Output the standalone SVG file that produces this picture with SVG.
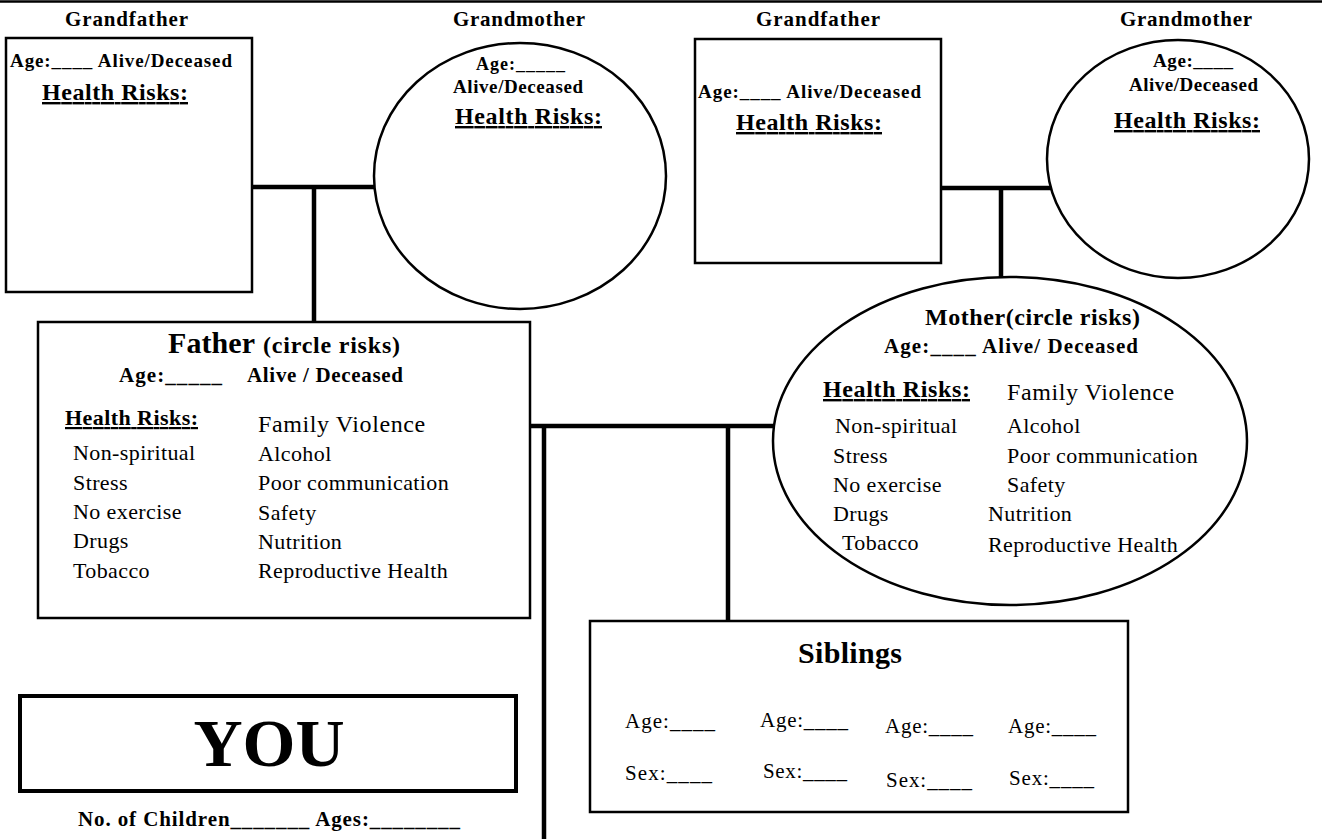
<svg xmlns="http://www.w3.org/2000/svg" width="1322" height="839" viewBox="0 0 1322 839">
  <style>
    .b{font-family:"Liberation Serif","Times New Roman",serif;font-weight:bold;fill:#000}
    .r{font-family:"Liberation Serif","Times New Roman",serif;font-weight:normal;fill:#000}
    .u{text-decoration:underline}
    .lbl{font-size:21px}
    .info{font-size:19px}
    .hr{font-size:24px}
    .item{font-size:22px;letter-spacing:0.4px}
    .fv{font-size:24px;letter-spacing:0.6px}
    .sib{font-size:21px}
    .shape{fill:#fff;stroke:#000;stroke-width:2.5}
    .conn{stroke:#000;stroke-width:4.5;fill:none}
  </style>

  <!-- page rule along the top -->
  <line x1="0" y1="1.5" x2="1322" y2="1.5" stroke="#000" stroke-width="2.5"/>

  <!-- family lines -->
  <g id="connectors" class="conn">
    <path d="M252 187 H380 M314 187 V322"/>
    <path d="M941 188 H1052 M1001 188 V278"/>
    <path d="M530 426 H776 M544 426 V839 M728 426 V621"/>
  </g>

  <!-- paternal grandfather -->
  <g id="grandfather-paternal">
    <text class="b lbl" x="65" y="26" textLength="123" lengthAdjust="spacing">Grandfather</text>
    <rect class="shape" x="6" y="38" width="246" height="254"/>
    <text class="b info" x="10" y="67" textLength="222" lengthAdjust="spacing">Age:____  Alive/Deceased</text>
    <text class="b hr u" x="42" y="100" textLength="146" lengthAdjust="spacing">Health Risks:</text>
  </g>

  <!-- paternal grandmother -->
  <g id="grandmother-paternal">
    <text class="b lbl" x="453" y="26" textLength="132" lengthAdjust="spacing">Grandmother</text>
    <ellipse class="shape" cx="520" cy="176" rx="146" ry="133" stroke-width="2"/>
    <text class="b" font-size="18" x="476" y="70" textLength="89" lengthAdjust="spacing">Age:_____</text>
    <text class="b info" x="453" y="93" textLength="130" lengthAdjust="spacing">Alive/Deceased</text>
    <text class="b hr u" x="455" y="124" textLength="147" lengthAdjust="spacing">Health Risks:</text>
  </g>

  <!-- maternal grandfather -->
  <g id="grandfather-maternal">
    <text class="b lbl" x="756" y="26" textLength="124" lengthAdjust="spacing">Grandfather</text>
    <rect class="shape" x="695" y="39" width="246" height="224"/>
    <text class="b info" x="698" y="98" textLength="223" lengthAdjust="spacing">Age:____  Alive/Deceased</text>
    <text class="b hr u" x="736" y="130" textLength="146" lengthAdjust="spacing">Health Risks:</text>
  </g>

  <!-- maternal grandmother -->
  <g id="grandmother-maternal">
    <text class="b lbl" x="1120" y="26" textLength="132" lengthAdjust="spacing">Grandmother</text>
    <ellipse class="shape" cx="1178" cy="159" rx="131" ry="119" stroke-width="2"/>
    <text class="b info" x="1153" y="67" textLength="80" lengthAdjust="spacing">Age:____</text>
    <text class="b info" x="1129" y="91" textLength="129" lengthAdjust="spacing">Alive/Deceased</text>
    <text class="b hr u" x="1114" y="128" textLength="146" lengthAdjust="spacing">Health Risks:</text>
  </g>

  <!-- father -->
  <g id="father">
    <rect class="shape" x="38" y="322" width="492" height="296"/>
    <text class="b" font-size="30" x="168" y="353" textLength="87" lengthAdjust="spacing">Father</text>
    <text class="b" font-size="24" x="263" y="353" textLength="137" lengthAdjust="spacing">(circle risks)</text>
    <text class="b" font-size="21" x="119" y="382" textLength="103" lengthAdjust="spacing">Age:_____</text>
    <text class="b" font-size="21" x="247" y="382" textLength="156" lengthAdjust="spacing">Alive / Deceased</text>
    <text class="b u" font-size="22" x="65" y="425" textLength="133" lengthAdjust="spacing">Health Risks:</text>
    <text class="r fv" x="258" y="432">Family Violence</text>
    <text class="r item" x="73" y="460">Non-spiritual</text>
    <text class="r item" x="73" y="490">Stress</text>
    <text class="r item" x="73" y="519">No exercise</text>
    <text class="r item" x="73" y="548">Drugs</text>
    <text class="r item" x="73" y="578">Tobacco</text>
    <text class="r item" x="258" y="461">Alcohol</text>
    <text class="r item" x="258" y="490">Poor communication</text>
    <text class="r item" x="258" y="520">Safety</text>
    <text class="r item" x="258" y="549">Nutrition</text>
    <text class="r item" x="258" y="578">Reproductive Health</text>
  </g>

  <!-- mother -->
  <g id="mother">
    <ellipse class="shape" cx="1010" cy="441" rx="237" ry="164" stroke-width="2"/>
    <text class="b" font-size="24" x="925" y="325" textLength="215" lengthAdjust="spacing">Mother(circle risks)</text>
    <text class="b" font-size="21" x="884" y="353" textLength="254" lengthAdjust="spacing">Age:____  Alive/ Deceased</text>
    <text class="b u" font-size="24" x="823" y="397" textLength="147" lengthAdjust="spacing">Health Risks:</text>
    <text class="r fv" x="1007" y="400">Family Violence</text>
    <text class="r item" x="835" y="433">Non-spiritual</text>
    <text class="r item" x="833" y="463">Stress</text>
    <text class="r item" x="833" y="492">No exercise</text>
    <text class="r item" x="833" y="521">Drugs</text>
    <text class="r item" x="842" y="550">Tobacco</text>
    <text class="r item" x="1007" y="433">Alcohol</text>
    <text class="r item" x="1007" y="463">Poor communication</text>
    <text class="r item" x="1007" y="492">Safety</text>
    <text class="r item" x="988" y="521">Nutrition</text>
    <text class="r item" x="988" y="552">Reproductive Health</text>
  </g>

  <!-- siblings -->
  <g id="siblings">
    <rect class="shape" x="590" y="621" width="538" height="191"/>
    <text class="b" font-size="30" x="798" y="663" textLength="104" lengthAdjust="spacing">Siblings</text>
    <text class="r sib" x="625" y="728" textLength="90" lengthAdjust="spacing">Age:____</text>
    <text class="r sib" x="760" y="727" textLength="88" lengthAdjust="spacing">Age:____</text>
    <text class="r sib" x="885" y="733" textLength="88" lengthAdjust="spacing">Age:____</text>
    <text class="r sib" x="1008" y="733" textLength="88" lengthAdjust="spacing">Age:____</text>
    <text class="r sib" x="625" y="780" textLength="87" lengthAdjust="spacing">Sex:____</text>
    <text class="r sib" x="763" y="778" textLength="84" lengthAdjust="spacing">Sex:____</text>
    <text class="r sib" x="886" y="787" textLength="86" lengthAdjust="spacing">Sex:____</text>
    <text class="r sib" x="1009" y="785" textLength="85" lengthAdjust="spacing">Sex:____</text>
  </g>

  <!-- you -->
  <g id="you">
    <rect x="20" y="696" width="496" height="95" fill="#fff" stroke="#000" stroke-width="4"/>
    <text class="b" font-size="68" x="269" y="766" text-anchor="middle">YOU</text>
    <text class="b" font-size="21" x="78" y="826" textLength="382" lengthAdjust="spacing">No. of Children_______ Ages:________</text>
  </g>
</svg>
